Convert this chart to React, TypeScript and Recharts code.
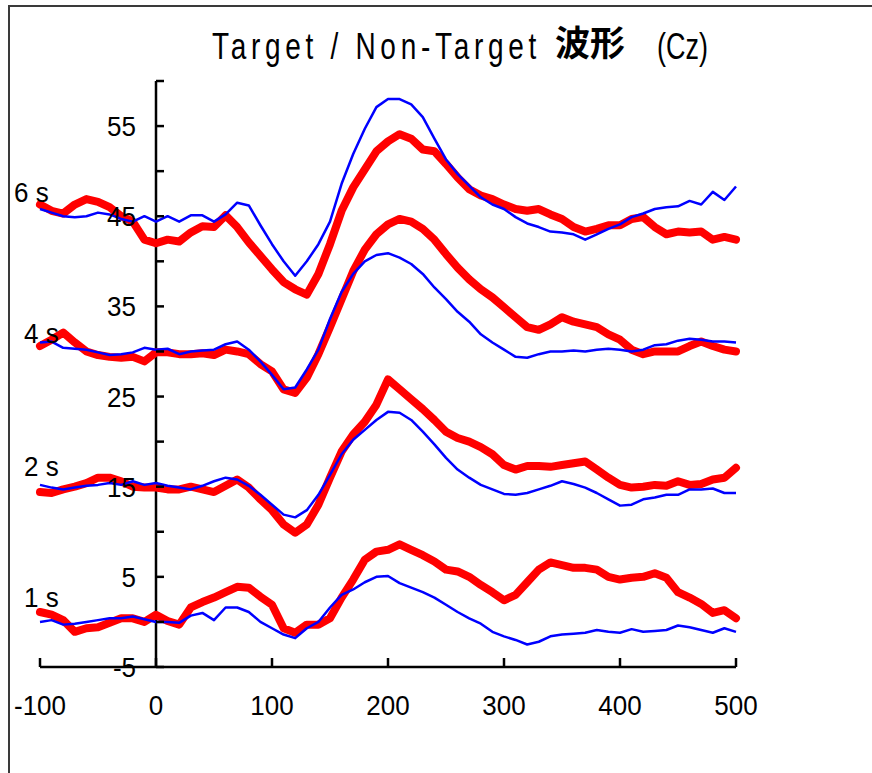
import React from "react";
import { LineChart, Line, XAxis, YAxis, ReferenceLine, ReferenceDot } from "recharts";

const TIME_MS = [
  -100, -90, -80, -70, -60, -50, -40, -30, -20, -10,
  0, 10, 20, 30, 40, 50, 60, 70, 80, 90,
  100, 110, 120, 130, 140, 150, 160, 170, 180, 190,
  200, 210, 220, 230, 240, 250, 260, 270, 280, 290,
  300, 310, 320, 330, 340, 350, 360, 370, 380, 390,
  400, 410, 420, 430, 440, 450, 460, 470, 480, 490, 500,
];

const TARGET_6S = [
  46.3, 45.6, 45.3, 46.3, 46.9, 46.6, 46.0, 45.0, 44.4, 42.4,
  42.0, 42.4, 42.2, 43.2, 43.9, 43.8, 45.1, 43.8, 42.1, 40.6,
  39.1, 37.7, 36.9, 36.3, 38.6, 41.9, 45.6, 48.2, 50.2, 52.2,
  53.3, 54.1, 53.6, 52.4, 52.2, 50.8, 49.3, 48.0, 47.3, 46.9,
  46.3, 45.8, 45.6, 45.8, 45.2, 44.7, 43.8, 43.3, 43.6, 44.0,
  44.0, 44.7, 44.9, 43.8, 43.0, 43.3, 43.2, 43.3, 42.4, 42.7, 42.4,
];
const NONTARGET_6S = [
  45.8, 45.4, 45.0, 44.9, 45.0, 45.4, 45.2, 44.7, 44.4, 45.0,
  44.4, 45.0, 44.4, 45.1, 45.1, 44.4, 45.2, 46.5, 46.2, 44.0,
  41.9, 40.0, 38.4, 40.0, 41.9, 44.4, 48.6, 51.9, 54.7, 57.1,
  58.0, 58.0, 57.4, 56.0, 53.6, 51.3, 49.7, 48.4, 47.1, 46.3,
  45.8, 44.9, 44.2, 43.8, 43.3, 43.2, 43.0, 42.4, 43.0, 43.6,
  44.1, 44.9, 45.3, 45.8, 46.0, 46.1, 46.7, 46.3, 47.7, 46.8, 48.3,
];
const TARGET_4S = [
  30.6, 31.3, 32.1, 31.0, 30.0, 29.6, 29.4, 29.3, 29.4, 28.9,
  29.9, 29.9, 29.7, 29.7, 29.8, 29.6, 30.2, 30.0, 29.7, 28.6,
  27.8, 25.8, 25.4, 27.1, 29.7, 32.7, 35.8, 38.9, 41.3, 43.0,
  44.1, 44.7, 44.4, 43.6, 42.4, 40.8, 39.3, 38.0, 36.9, 36.0,
  34.9, 33.8, 32.7, 32.4, 33.0, 33.8, 33.3, 33.0, 32.7, 31.9,
  31.3, 30.2, 29.7, 30.0, 30.0, 30.0, 30.6, 31.1, 30.6, 30.2, 30.0,
];
const NONTARGET_4S = [
  31.0, 31.1, 30.4, 30.3, 30.2, 29.9, 29.6, 29.7, 29.9, 30.4,
  30.2, 30.3, 29.7, 30.0, 30.1, 30.2, 30.8, 31.1, 30.2, 28.9,
  27.4, 25.8, 26.0, 28.0, 30.2, 33.6, 36.6, 38.6, 40.0, 40.7,
  40.9, 40.4, 39.7, 38.6, 37.1, 35.8, 34.4, 33.3, 31.9, 31.0,
  30.2, 29.4, 29.3, 29.7, 30.0, 30.0, 30.1, 30.0, 30.2, 30.3,
  30.2, 30.0, 30.2, 30.7, 30.8, 31.2, 31.4, 31.3, 31.1, 31.1, 31.0,
];
const TARGET_2S = [
  14.4, 14.3, 14.7, 15.0, 15.4, 16.0, 16.0, 15.6, 15.0, 14.9,
  14.9, 14.7, 14.7, 15.0, 14.7, 14.4, 15.1, 15.8, 14.9, 13.6,
  12.4, 10.8, 9.9, 10.8, 13.0, 16.0, 18.9, 20.8, 22.2, 24.1,
  26.9, 25.8, 24.7, 23.6, 22.4, 21.1, 20.4, 20.0, 19.4, 18.6,
  17.4, 16.9, 17.3, 17.3, 17.2, 17.4, 17.6, 17.8, 16.9, 16.0,
  15.2, 14.9, 15.0, 15.2, 15.1, 15.6, 15.2, 15.3, 15.8, 16.0, 17.1,
];
const NONTARGET_2S = [
  15.2, 14.9, 14.7, 14.9, 15.1, 15.2, 15.4, 15.2, 15.6, 15.2,
  15.4, 15.1, 14.9, 14.7, 15.1, 15.6, 16.0, 15.8, 15.1, 14.1,
  13.0, 11.9, 11.6, 12.4, 14.1, 16.3, 18.6, 20.2, 21.3, 22.4,
  23.3, 23.2, 22.4, 21.1, 19.7, 18.2, 16.9, 16.0, 15.2, 14.7,
  14.2, 14.1, 14.3, 14.7, 15.1, 15.6, 15.3, 14.9, 14.3, 13.6,
  12.9, 13.0, 13.6, 13.8, 14.1, 14.1, 14.7, 14.7, 14.8, 14.3, 14.3,
];
const TARGET_1S = [
  1.1, 0.8, 0.2, -1.1, -0.7, -0.6, -0.1, 0.4, 0.4, 0.0,
  0.8, 0.1, -0.3, 1.6, 2.2, 2.7, 3.3, 3.9, 3.8, 2.8,
  1.9, -0.7, -1.2, -0.3, -0.3, 0.4, 2.7, 4.7, 6.9, 7.8,
  8.0, 8.6, 8.0, 7.4, 6.7, 5.8, 5.6, 5.0, 4.1, 3.3,
  2.4, 3.0, 4.4, 5.8, 6.6, 6.3, 6.0, 6.0, 5.8, 5.0,
  4.7, 4.9, 5.0, 5.4, 4.9, 3.3, 2.7, 2.0, 1.0, 1.3, 0.4,
];
const NONTARGET_1S = [
  0.0, 0.2, -0.3, -0.2, 0.0, 0.2, 0.4, 0.4, 0.6, 0.3,
  0.0, 0.0, -0.1, 0.7, 1.0, 0.2, 1.6, 1.6, 1.1, 0.0,
  -0.7, -1.4, -1.8, -0.7, 0.0, 1.6, 3.0, 3.6, 4.4, 5.0,
  5.1, 4.3, 3.8, 3.3, 2.7, 1.9, 1.1, 0.4, -0.2, -1.1,
  -1.6, -2.0, -2.5, -2.2, -1.6, -1.4, -1.3, -1.2, -0.9, -1.1,
  -1.2, -0.8, -1.1, -1.0, -0.9, -0.4, -0.6, -0.9, -1.2, -0.7, -1.1,
];

const X_TICKS = [-100, 0, 100, 200, 300, 400, 500];
const Y_TICKS = [-5, 0, 5, 10, 15, 20, 25, 30, 35, 40, 45, 50, 55, 60];
const Y_LABELS = [-5, 5, 15, 25, 35, 45, 55];
const COND_LABELS = ["6 s", "4 s", "2 s", "1 s"];
const COND_LABEL_Y = [46.6, 30.9, 16.2, 1.6];
const COND_LABEL_DX = [-26, -16, -16, -16];

const FONT = '"Liberation Sans", Arial, Helvetica, sans-serif';

const data = TIME_MS.map((t, i) => ({
  t,
  r6: TARGET_6S[i],
  b6: NONTARGET_6S[i],
  r4: TARGET_4S[i],
  b4: NONTARGET_4S[i],
  r2: TARGET_2S[i],
  b2: NONTARGET_2S[i],
  r1: TARGET_1S[i],
  b1: NONTARGET_1S[i],
}));

const XTick = (props: any) => {
  const { x, y, payload } = props;
  return (
    <g>
      <line x1={x} y1={y} x2={x} y2={y - 9} stroke="#000" strokeWidth={2.5} />
      <text
        transform={`translate(${x},${y + 48}) scale(1,1.08)`}
        textAnchor="middle"
        fontSize={26}
        fontFamily={FONT}
        fill="#000"
      >
        {payload.value}
      </text>
    </g>
  );
};

const yTickShape = (value: number) => (p: any) => (
  <g>
    <line x1={p.cx} y1={p.cy} x2={p.cx + 8} y2={p.cy} stroke="#000" strokeWidth={2.5} />
    {Y_LABELS.includes(value) && (
      <text
        transform={`translate(${p.cx - 20},${p.cy + 10}) scale(1,1.08)`}
        textAnchor="end"
        fontSize={26}
        fontFamily={FONT}
        fill="#000"
      >
        {value}
      </text>
    )}
  </g>
);

const condShape = (i: number) => (p: any) => (
  <text
    transform={`translate(${p.cx + COND_LABEL_DX[i]},${p.cy}) scale(1,1.08)`}
    textAnchor="start"
    fontSize={26}
    fontFamily={FONT}
    fill="#000"
  >
    {COND_LABELS[i]}
  </text>
);

const RED_KEYS = ["r6", "r4", "r2", "r1"];
const BLUE_KEYS = ["b6", "b4", "b2", "b1"];

export default function App() {
  return (
    <div
      style={{
        position: "absolute",
        left: 8,
        top: 5,
        width: 864,
        height: 768,
        boxSizing: "border-box",
        borderTop: "2px solid #3a3a3a",
        borderLeft: "2px solid #3a3a3a",
        background: "#fff",
      }}
    >
      <div style={{ position: "absolute", left: 0, top: 0 }}>
        <LineChart
          width={862}
          height={766}
          data={data}
          margin={{ top: 74, right: 136, bottom: 46, left: 30 }}
        >
          <XAxis
            dataKey="t"
            type="number"
            domain={[-100, 500]}
            ticks={X_TICKS}
            interval={0}
            tick={<XTick />}
            tickLine={false}
            tickSize={0}
            tickMargin={0}
            axisLine={{ stroke: "#000", strokeWidth: 2.5 }}
            height={60}
          />
          <YAxis hide type="number" domain={[-5, 60]} allowDataOverflow />
          <ReferenceLine x={0} stroke="#000" strokeWidth={2.5} />
          {Y_TICKS.map((v) => (
            <ReferenceDot
              key={"yt" + v}
              x={0}
              y={v}
              r={0}
              ifOverflow="visible"
              shape={yTickShape(v)}
            />
          ))}
          {COND_LABELS.map((lab, i) => (
            <ReferenceDot
              key={"cl" + lab}
              x={-100}
              y={COND_LABEL_Y[i]}
              r={0}
              ifOverflow="visible"
              shape={condShape(i)}
            />
          ))}
          {RED_KEYS.map((k) => (
            <Line
              key={k}
              dataKey={k}
              type="linear"
              stroke="#ff0000"
              strokeWidth={8}
              strokeLinejoin="round"
              strokeLinecap="round"
              dot={false}
              activeDot={false}
              isAnimationActive={false}
            />
          ))}
          {BLUE_KEYS.map((k) => (
            <Line
              key={k}
              dataKey={k}
              type="linear"
              stroke="#0000ff"
              strokeWidth={2.5}
              strokeLinejoin="round"
              dot={false}
              activeDot={false}
              isAnimationActive={false}
            />
          ))}
        </LineChart>
      </div>
      <svg
        width={862}
        height={90}
        style={{ position: "absolute", left: 0, top: 0, pointerEvents: "none" }}
      >
        <text
          transform="translate(202,52) scale(1,1.3)"
          fontSize={28}
          fontFamily={FONT}
          letterSpacing={4.7}
          fill="#000"
        >
          Target / Non-Target
        </text>
        <text
          x={545}
          y={49}
          fontSize={35}
          fontWeight="bold"
          fontFamily='"Noto Sans CJK JP", "Noto Sans CJK SC", sans-serif'
          fill="#000"
        >
          波形
        </text>
        <text
          transform="translate(647,52) scale(1,1.35)"
          fontSize={27}
          fontFamily={FONT}
          fill="#000"
        >
          (Cz)
        </text>
      </svg>
    </div>
  );
}
